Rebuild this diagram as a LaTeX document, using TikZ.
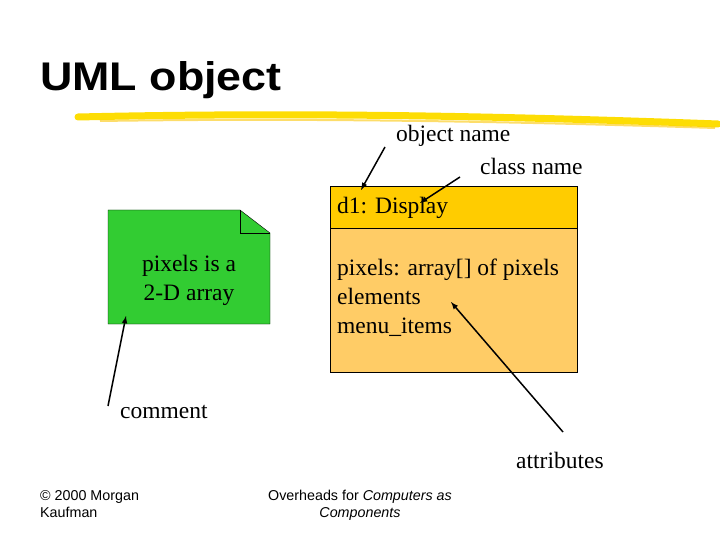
\documentclass[tikz,border=0pt]{standalone}
\usepackage{fontspec}
\setmainfont{Liberation Serif}
\setsansfont{Liberation Sans}
\begin{document}
\begin{tikzpicture}[x=1pt,y=-1pt,
  lbl/.style={font=\fontsize{23.5}{29}\selectfont,inner sep=0},
  arr/.style={-latex,line width=1.5pt,black},
  foot/.style={font=\sffamily\fontsize{14.3}{17}\selectfont,inner sep=0,align=left}]
\useasboundingbox (0,0) rectangle (720,540);
% title
\node[anchor=west,inner sep=0,font=\sffamily\bfseries\fontsize{40}{44}\selectfont,xscale=1.12] (title) at (40,80) {UML object};
\draw[line width=7pt,yellow!80!orange,line cap=round] (78,117) .. controls (300,112) and (500,116) .. (718,124);
\draw[line width=2pt,yellow!60!orange,opacity=.6] (100,121) .. controls (300,118) and (500,121) .. (715,128);
% note
\path[fill={rgb,255:red,50;green,204;blue,50},draw=black] (108,210) -- (240,210) -- (270,233) -- (270,324) -- (108,324) -- cycle;
\draw (240,210) -- (240,233) -- (270,233);
\node[lbl,align=center] (note) at (189,280) {pixels is a\\2-D array};
% class
\path[fill={rgb,255:red,255;green,204;blue,0},draw=black] (330,186) rectangle (577,228);
\path[fill={rgb,255:red,255;green,204;blue,102},draw=black] (330,228) rectangle (577,372);
\node[lbl,anchor=west] (cname) at (337,208) {d1: Display};
\node[lbl,anchor=north west,align=left] (attrs) at (337,259) {pixels: array[] of pixels\\elements\\menu\_items};
% labels
\node[lbl,anchor=west] (on) at (396,136) {object name};
\node[lbl,anchor=west] (cn) at (480,166) {class name};
\node[lbl,anchor=west] (cm) at (120,412) {comment};
\node[lbl,anchor=west] (at) at (516,460) {attributes};
\coordinate (a1) at (385,147); \coordinate (b1) at (361,190);
\coordinate (a2) at (460,177); \coordinate (b2) at (420,203);
\coordinate (a3) at (563,432); \coordinate (b3) at (451,302);
\coordinate (a4) at (108,406); \coordinate (b4) at (126,316);
\draw[arr] (a1) -- (b1);
\draw[arr] (a2) -- (b2);
\draw[arr] (a3) -- (b3);
\draw[arr] (a4) -- (b4);
% footer
\node[foot,anchor=north west] (f1) at (40,490) {\textcopyright{} 2000 Morgan\\Kaufman};
\node[foot,anchor=north,align=center] (f2) at (360,490) {Overheads for \textit{Computers as}\\\textit{Components}};
\end{tikzpicture}
\end{document}
